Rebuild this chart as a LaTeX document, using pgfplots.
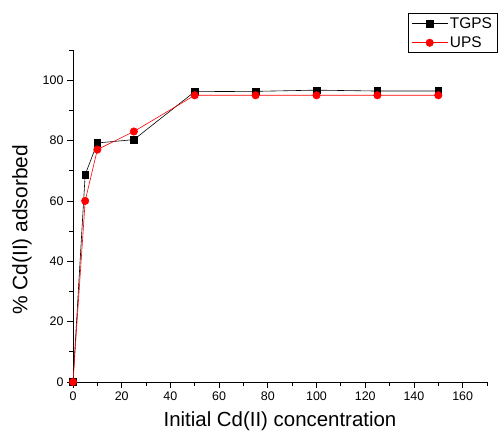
\documentclass[border=0pt]{standalone}
\usepackage{fontspec}
\setmainfont{Liberation Sans}
\usepackage{pgfplots}
\pgfplotsset{compat=1.18}
\begin{document}
\begin{tikzpicture}
\begin{axis}[
  at={(0,0)}, anchor=origin,
  scale only axis,
  width=414bp, height=332bp,
  xmin=0, xmax=170, ymin=0, ymax=110,
  axis x line*=bottom, axis y line*=left,
  axis line style={black, line width=0.8pt},
  xtick={0,20,...,160}, ytick={0,20,...,100},
  minor xtick={10,30,...,170}, minor ytick={10,30,...,110},
  tick align=outside,
  major tick length=6bp, minor tick length=3.5bp,
  tick style={black, line width=0.8pt},
  /pgf/number format/assume math mode=true,
  ticklabel style={font=\fontsize{12.5}{14}\selectfont},
  xlabel={Initial Cd(II) concentration},
  ylabel={\% Cd(II) adsorbed},
  xlabel style={font=\fontsize{20.5}{24}\selectfont, at={(axis description cs:0.5,0)}, anchor=center, yshift=-39bp},
  ylabel style={font=\fontsize{21}{24}\selectfont, at={(axis description cs:-0.1232,0.458)}, anchor=center},
  legend style={at={(335bp,369bp)}, anchor=north west, font=\fontsize{15.5}{18}\selectfont, draw=black, line width=0.8pt, inner xsep=3pt, inner ysep=2pt, row sep=3pt},
  legend image code/.code={\draw[mark repeat=2, mark phase=2] plot coordinates {(0bp,0bp) (18bp,0bp) (36bp,0bp)};},
  legend cell align=left,
  clip=false,
]
\addplot[black, line width=0.6pt, mark=square*, mark size=3.3bp, mark options={solid, fill=black}] coordinates {
(0,0) (5,68.7) (10,79.2) (25,80.3) (50,96.2) (75,96.3) (100,96.7) (125,96.4) (150,96.4)};
\addlegendentry{TGPS}
\addplot[red, line width=0.6pt, mark=*, mark size=3.7bp, mark options={solid, fill=red, draw=red}] coordinates {
(0,0) (5,60) (10,77) (25,83) (50,95) (75,95) (100,95) (125,95) (150,95)};
\addlegendentry{UPS}
\end{axis}
\pgfresetboundingbox
\path (-73bp,-52bp) rectangle (426bp,382bp);
\end{tikzpicture}
\end{document}
